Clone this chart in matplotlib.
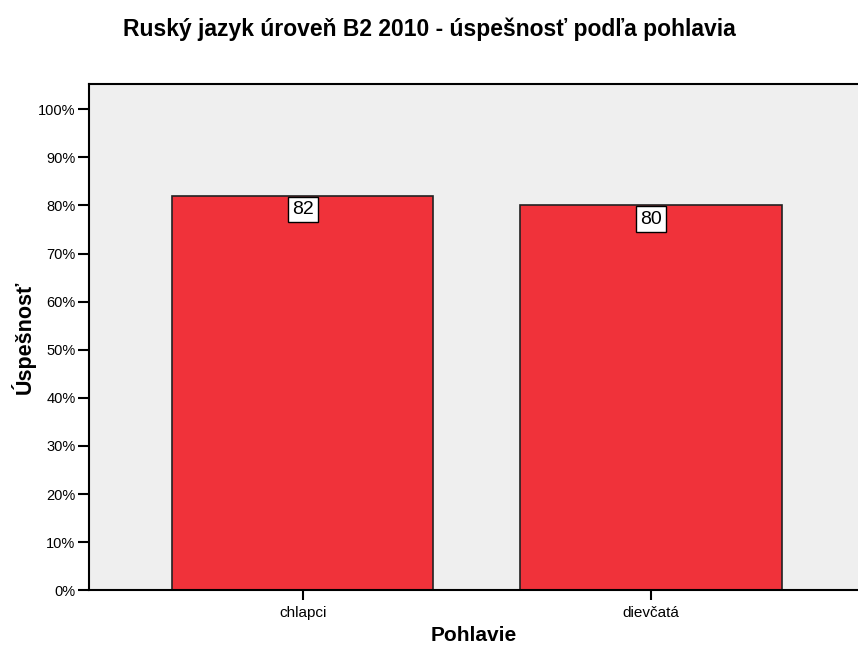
import matplotlib
matplotlib.use("Agg")
import matplotlib.pyplot as plt
from matplotlib.ticker import PercentFormatter

plt.rcParams['font.family'] = ['Liberation Sans', 'DejaVu Sans']

categories = ['chlapci', 'dievčatá']
values = [82, 80]
yticks = [0, 10, 20, 30, 40, 50, 60, 70, 80, 90, 100]

fig = plt.figure(figsize=(8.58, 6.48), dpi=100)
ax = fig.add_axes([0.1043, 0.0891, 0.8957, 0.7817])
ax.set_facecolor('#EFEFEF')

x = range(len(categories))
ax.bar(x, values, width=0.75, color='#F0323A', edgecolor='#222222', linewidth=1.2, zorder=2)

# value labels sit in a white box hanging from the bar top
for xi, v in zip(x, values):
    ax.text(xi, v - 1.1, str(v), ha='center', va='top', fontsize=14, zorder=3,
            bbox=dict(boxstyle='square,pad=0.22', facecolor='white', edgecolor='black', linewidth=1))

ax.set_xlim(-0.612, 1.594)
ax.set_ylim(0, 105.3)
ax.set_xticks(list(x))
ax.set_xticklabels(categories, fontsize=11)
ax.set_yticks(yticks)
ax.yaxis.set_major_formatter(PercentFormatter(decimals=0))
ax.tick_params(axis='y', length=8, width=1.5, labelsize=10.5, pad=2)
ax.tick_params(axis='x', length=7, width=1.5, pad=4)

for side in ['left', 'bottom', 'top']:
    ax.spines[side].set_linewidth(1.5)
    ax.spines[side].set_color('black')
ax.spines['right'].set_visible(False)

ax.set_xlabel('Pohlavie', fontsize=15, fontweight='bold', labelpad=5)
ax.set_ylabel('Úspešnosť', fontsize=15.5, fontweight='bold', labelpad=2)
fig.text(0.5, 0.955, 'Ruský jazyk úroveň B2 2010 - úspešnosť podľa pohlavia',
         ha='center', va='center', fontsize=16.5, fontweight='bold')

fig.savefig('out.png', dpi=100)
